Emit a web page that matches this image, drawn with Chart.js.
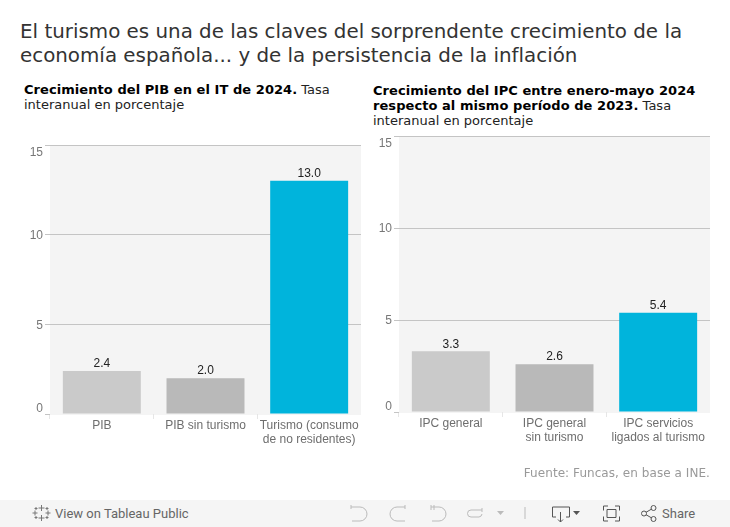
<!DOCTYPE html>
<html lang="es">
<head>
<meta charset="utf-8">
<title>Turismo y economía española</title>
<script src="https://cdn.jsdelivr.net/npm/chart.js@4/dist/chart.umd.min.js"></script>
<style>
  html, body { margin: 0; padding: 0; background: #fff; }
  body { position: relative; width: 730px; height: 527px; overflow: hidden; font-family: "DejaVu Sans", sans-serif; }
  #title { position: absolute; left: 20px; top: 20px; font-size: 19.88px; line-height: 24px; color: #333; white-space: nowrap; }
  .sub { position: absolute; font-size: 13px; line-height: 15px; color: #222; white-space: nowrap; }
  .sub b { color: #000; letter-spacing: 0.06px; }
  #sub1 { left: 24px; top: 82px; }
  #sub2 { left: 373px; top: 83px; }
  .box { position: absolute; top: 120px; width: 361px; height: 340px; }
  #box1 { left: 0; }
  #box2 { left: 349px; }
  #source { position: absolute; right: 20px; top: 466px; font-size: 12px; line-height: 15px; letter-spacing: 0.06px; color: #999; white-space: nowrap; }
  #bar { position: absolute; left: 0; top: 500px; width: 730px; height: 27px; background: #f5f5f5; }
  #bar span { position: absolute; top: 6px; font: 13px/15px Roboto, sans-serif; color: #666; white-space: nowrap; }
  #bar svg { position: absolute; left: 0; top: 0; }
</style>
</head>
<body>
<div id="title">El turismo es una de las claves del sorprendente crecimiento de la<br>economía española... y de la persistencia de la inflación</div>
<div id="sub1" class="sub"><b>Crecimiento del PIB en el IT de 2024.</b> Tasa<br>interanual en porcentaje</div>
<div id="sub2" class="sub"><b>Crecimiento del IPC entre enero-mayo 2024<br>respecto al mismo período de 2023.</b> Tasa<br>interanual en porcentaje</div>
<div id="box1" class="box"><canvas id="chart1" width="361" height="340"></canvas></div>
<div id="box2" class="box"><canvas id="chart2" width="361" height="340"></canvas></div>
<div id="source">Fuente: Funcas, en base a INE.</div>
<div id="bar">
  <svg width="730" height="27" fill="none" stroke="#777" stroke-width="1">
    <!-- tableau logo -->
    <path d="M41.5 5v6M38.5 8h6M41.5 15v6M38.5 18h6M35 10.5v5M32.5 13h5M48 10.5v5M45.5 13h5M36 7v3M34.5 8.5h3M47 7v3M45.5 8.5h3M36 16v3M34.5 17.5h3M47 16v3M45.5 17.5h3"/>
    <!-- undo, redo, revert, refresh -->
    <g stroke="#bbb">
      <path d="M351 7h9a6 6 0 0 1 0 14h-8M351 5v4"/>
      <path d="M405 7h-8a6 6 0 0 0 0 14h8M405 5v4"/>
      <path d="M431 7h8a6 6 0 0 1 0 14h-7M431 5v5M434 5v5"/>
      <path d="M482 10h-11a3.500 3.500 0 0 0 0 7h8a3.500 3.500 0 0 0 3-3M482 8v4"/>
      <path d="M525 7v12"/>
    </g>
    <path d="M497 11h7l-3.500 4z" fill="#bbb" stroke="none"/>
    <!-- download -->
    <path d="M556 17h-3.500v-10h17v10h-3.500M560.500 12v10M558 19.500l2.500 2.500 2.500-2.500" stroke="#555"/>
    <path d="M573 11h7l-3.500 4z" fill="#555" stroke="none"/>
    <!-- fullscreen -->
    <path d="M608 6h-4.500v4.500M615 6h4.500v4.500M608 21h-4.500v-4.500M615 21h4.500v-4.500M607 9.500h9v8h-9z" stroke="#555"/>
    <!-- share -->
    <g stroke="#555">
      <circle cx="644" cy="13.500" r="2.500"/><circle cx="653.500" cy="8" r="2.500"/><circle cx="653.500" cy="19" r="2.500"/>
      <path d="M646 12.300l5.500-3.200M646 14.700l5.500 3.200"/>
    </g>
  </svg>
  <span style="left:55px">View on Tableau Public</span>
  <span style="left:662px">Share</span>
</div>

<script>
const pibCategories = ['PIB', 'PIB sin turismo', ['Turismo (consumo', 'de no residentes)']];
const pibValues = [2.4, 2.0, 13.0];
const ipcCategories = ['IPC general', ['IPC general', 'sin turismo'], ['IPC servicios', 'ligados al turismo']];
const ipcValues = [3.3, 2.6, 5.4];
const yTicks = [0, 5, 10, 15];
const barColors = ['#cacaca', '#b9b9b9', '#00b4dc'];

const LABEL_FONT = '"Liberation Sans", Arial, sans-serif';

// Plot background, bar value labels and Tableau's nudged first/last axis labels
const tableauLook = {
  id: 'tableauLook',
  beforeDraw(chart) {
    const a = chart.chartArea;
    const ctx = chart.ctx;
    ctx.save();
    ctx.fillStyle = '#f4f4f4';
    ctx.fillRect(a.left, a.top, a.right - a.left, a.bottom - a.top + 1);
    ctx.restore();
    chart.scales.y.getLabelItems().forEach(item => {
      if (item.nudged) return;
      item.nudged = true;
      let shift = 1;
      if (item.label === '15') shift = 8;
      if (item.label === '0') shift = -5;
      item.options.translation[1] += shift;
    });
  },
  afterDatasetsDraw(chart) {
    const ctx = chart.ctx;
    const values = chart.data.datasets[0].data;
    ctx.save();
    ctx.font = '12px ' + LABEL_FONT;
    ctx.fillStyle = '#222';
    ctx.textAlign = 'center';
    ctx.textBaseline = 'bottom';
    chart.getDatasetMeta(0).data.forEach((bar, i) => {
      ctx.fillText(values[i].toFixed(1), bar.x, bar.y - 1);
    });
    ctx.restore();
  }
};

function makeChart(id, categories, values, top, bottom) {
  return new Chart(document.getElementById(id), {
    type: 'bar',
    data: {
      labels: categories,
      datasets: [{
        data: values,
        backgroundColor: barColors,
        barPercentage: 0.752,
        categoryPercentage: 1
      }]
    },
    plugins: [tableauLook],
    options: {
      responsive: false,
      animation: false,
      events: [],
      layout: { padding: { top: top, right: 0, left: 0, bottom: bottom } },
      plugins: { legend: { display: false }, tooltip: { enabled: false } },
      scales: {
        x: {
          grid: { color: 'transparent', tickColor: '#e6e6e6', tickLength: 5, drawOnChartArea: false },
          border: { display: false },
          ticks: { color: '#6e6e6e', font: { family: LABEL_FONT, size: 12, lineHeight: 1.17 }, padding: 0, maxRotation: 0, autoSkip: false },
          afterFit(scale) { scale.height = 46; }
        },
        y: {
          min: 0,
          max: 15,
          afterBuildTicks(scale) { scale.ticks = yTicks.map(v => ({ value: v })); },
          grid: {
            color: ctx => ctx.tick.value === 0 ? 'transparent' : '#c4c4c4',
            tickColor: '#c4c4c4',
            tickLength: 5
          },
          border: { display: false },
          ticks: { color: '#777', font: { family: LABEL_FONT, size: 12 }, padding: 2 },
          afterFit(scale) { scale.width = 50; }
        }
      }
    }
  });
}

makeChart('chart1', pibCategories, pibValues, 25, 0);
makeChart('chart2', ipcCategories, ipcValues, 16, 2);
</script>
</body>
</html>
